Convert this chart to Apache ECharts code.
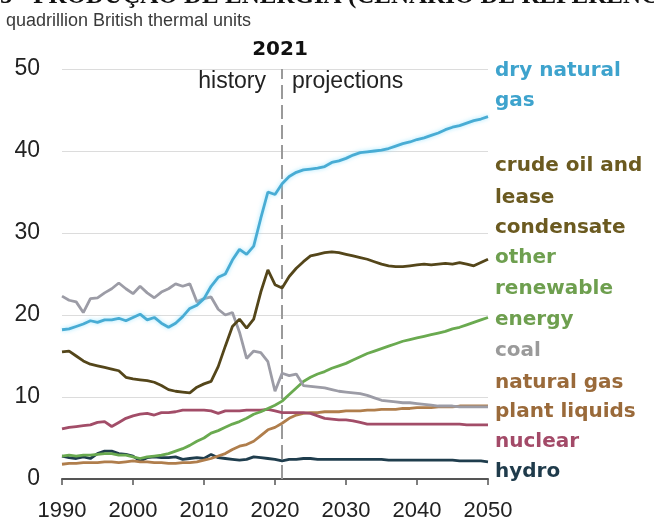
<!DOCTYPE html>
<html>
<head>
<meta charset="utf-8">
<script src="https://cdn.jsdelivr.net/npm/echarts@6/dist/echarts.min.js"></script>
<style>html,body{margin:0;padding:0;background:#fff}#c{width:654px;height:522px}</style>
</head>
<body>
<div id="c"></div>
<script>
const years = [1990,1991,1992,1993,1994,1995,1996,1997,1998,1999,2000,2001,2002,2003,2004,2005,2006,2007,2008,2009,2010,2011,2012,2013,2014,2015,2016,2017,2018,2019,2020,2021,2022,2023,2024,2025,2026,2027,2028,2029,2030,2031,2032,2033,2034,2035,2036,2037,2038,2039,2040,2041,2042,2043,2044,2045,2046,2047,2048,2049,2050];
const xTicks = [1990,2000,2010,2020,2030,2040,2050];
const yTicks = [0,10,20,30,40,50];

const dryNaturalGas = [18.2,18.3,18.6,18.9,19.3,19.1,19.4,19.4,19.6,19.3,19.7,20.1,19.4,19.7,19.0,18.5,19.0,19.8,20.8,21.2,22.0,23.5,24.6,25.0,26.7,28.0,27.4,28.4,31.8,35.0,34.7,36.0,36.9,37.4,37.7,37.8,37.9,38.1,38.6,38.8,39.1,39.5,39.8,39.9,40.0,40.1,40.3,40.6,40.9,41.1,41.4,41.6,41.9,42.2,42.6,42.9,43.1,43.4,43.7,43.9,44.2];
const crudeOil = [15.5,15.6,15.0,14.4,14.0,13.8,13.6,13.4,13.2,12.4,12.2,12.1,12.0,11.8,11.4,10.9,10.7,10.6,10.5,11.2,11.6,11.9,13.7,16.2,18.6,19.5,18.4,19.5,22.8,25.5,23.7,23.3,24.7,25.7,26.5,27.2,27.4,27.6,27.7,27.6,27.4,27.2,27.0,26.8,26.5,26.2,26.0,25.9,25.9,26.0,26.1,26.2,26.1,26.2,26.3,26.2,26.4,26.2,26.0,26.4,26.8];
const otherRenewable = [2.8,2.9,2.8,2.9,2.9,3.0,3.1,3.1,2.9,2.9,2.7,2.5,2.7,2.8,2.9,3.1,3.4,3.7,4.1,4.6,5.0,5.6,5.9,6.3,6.7,7.0,7.4,7.9,8.2,8.6,9.0,9.5,10.3,11.1,11.9,12.4,12.8,13.1,13.5,13.8,14.1,14.5,14.9,15.3,15.6,15.9,16.2,16.5,16.8,17.0,17.2,17.4,17.6,17.8,18.0,18.3,18.5,18.8,19.1,19.4,19.7];
const coal = [22.3,21.8,21.6,20.3,22.0,22.1,22.7,23.2,23.9,23.2,22.6,23.5,22.7,22.1,22.8,23.2,23.8,23.5,23.8,21.6,22.0,22.2,20.7,20.0,20.3,17.9,14.7,15.6,15.4,14.3,10.7,12.9,12.6,12.8,11.4,11.3,11.2,11.1,10.9,10.7,10.6,10.5,10.4,10.2,9.9,9.6,9.5,9.4,9.3,9.3,9.2,9.1,9.0,8.9,8.9,8.9,8.8,8.8,8.8,8.8,8.8];
const ngpl = [1.8,1.9,1.9,2.0,2.0,2.0,2.1,2.1,2.0,2.1,2.2,2.1,2.1,2.0,2.0,1.9,1.9,2.0,2.0,2.1,2.3,2.5,2.8,3.1,3.6,4.0,4.2,4.6,5.3,6.0,6.3,6.8,7.4,7.8,8.0,8.1,8.1,8.2,8.2,8.2,8.3,8.3,8.3,8.4,8.4,8.5,8.5,8.5,8.6,8.6,8.7,8.7,8.7,8.8,8.8,8.8,8.9,8.9,8.9,8.9,8.9];
const nuclear = [6.1,6.3,6.4,6.5,6.6,6.9,7.0,6.4,6.9,7.4,7.7,7.9,8.0,7.8,8.1,8.1,8.2,8.4,8.4,8.4,8.4,8.3,8.0,8.3,8.3,8.3,8.4,8.4,8.4,8.5,8.3,8.1,8.1,8.1,8.1,8.0,7.7,7.4,7.3,7.2,7.2,7.1,6.9,6.7,6.7,6.7,6.7,6.7,6.7,6.7,6.7,6.7,6.7,6.7,6.7,6.7,6.7,6.6,6.6,6.6,6.6];
const hydro = [2.8,2.6,2.5,2.7,2.5,3.1,3.4,3.4,3.1,3.0,2.8,2.2,2.6,2.7,2.6,2.6,2.7,2.4,2.5,2.6,2.5,3.0,2.6,2.5,2.4,2.3,2.4,2.7,2.6,2.5,2.4,2.2,2.4,2.4,2.5,2.5,2.4,2.4,2.4,2.4,2.4,2.4,2.4,2.4,2.4,2.4,2.3,2.3,2.3,2.3,2.3,2.3,2.3,2.3,2.3,2.3,2.2,2.2,2.2,2.2,2.1];

const projectionYear = 2021;
const titleText = '5 - PRODUÇÃO DE ENERGIA (CENÁRIO DE REFERÊNCIA)';
const unitText = 'quadrillion British thermal units';

const seriesDefs = [
  {name:'hydro', data:hydro, color:'#1f3d4d'},
  {name:'natural gas plant liquids', data:ngpl, color:'#b07e4c'},
  {name:'nuclear', data:nuclear, color:'#a24d68'},
  {name:'other renewable energy', data:otherRenewable, color:'#6aaa50'},
  {name:'coal', data:coal, color:'#9c9ca6'},
  {name:'crude oil and lease condensate', data:crudeOil, color:'#54461a'},
  {name:'dry natural gas', data:dryNaturalGas, color:'#48acd4'}
];

const labelDefs = [
  {t:'dry natural', y:73, c:'#3ea3cd'},
  {t:'gas', y:103, c:'#3ea3cd'},
  {t:'crude oil and', y:168, c:'#6b5a20'},
  {t:'lease', y:200, c:'#6b5a20'},
  {t:'condensate', y:230, c:'#6b5a20'},
  {t:'other', y:260, c:'#6e9f4f'},
  {t:'renewable', y:291, c:'#6e9f4f'},
  {t:'energy', y:322, c:'#6e9f4f'},
  {t:'coal', y:353, c:'#9a9a9a'},
  {t:'natural gas', y:385, c:'#9a6a3a'},
  {t:'plant liquids', y:414, c:'#9a6a3a'},
  {t:'nuclear', y:444, c:'#a34a68'},
  {t:'hydro', y:474, c:'#1f3b4b'}
];

const chart = echarts.init(document.getElementById('c'), null, {renderer:'canvas'});

const series = seriesDefs.map((s, i) => ({
  name: s.name,
  type: 'line',
  data: years.map((yr, k) => [yr, s.data[k]]),
  showSymbol: false,
  symbol: 'none',
  smooth: false,
  lineStyle: {
    color: s.color, width: 2.8,
    shadowColor: s.name === 'dry natural gas' ? 'rgba(140,225,255,0.8)' : 'rgba(0,0,0,0)',
    shadowBlur: s.name === 'dry natural gas' ? 4 : 0
  },
  z: 3 + i,
  silent: true,
  animation: false
}));

series.push({
  type: 'line',
  data: [],
  markLine: {
    silent: true,
    symbol: 'none',
    animation: false,
    label: {show: false},
    lineStyle: {color: '#9a9a9a', width: 2, type: [14, 6]},
    data: [{xAxis: projectionYear}]
  },
  z: 2
});

const graphics = labelDefs.map(l => ({
  type: 'text', left: 495, top: l.y - 12,
  style: {text: l.t, fill: l.c, font: 'bold 20px "DejaVu Sans", sans-serif'}
}));
graphics.push({type:'text', left: 6, top: 12, style:{text: unitText, fill:'#3a3a3a', font:'18px "Liberation Sans", Arial, sans-serif'}});
graphics.push({type:'text', left: 0, top: -16, style:{text: titleText, fill:'#111', font:'bold 25px "Liberation Serif", serif'}});
graphics.push({type:'text', x: 280, y: 50, style:{text: String(projectionYear), fill:'#111', font:'bold 20px "DejaVu Sans", sans-serif', align:'center', verticalAlign:'middle'}});
graphics.push({type:'text', x: 266, y: 82, style:{text:'history', fill:'#222', font:'23px "Liberation Sans", Arial, sans-serif', align:'right', verticalAlign:'middle'}});
graphics.push({type:'text', x: 292, y: 82, style:{text:'projections', fill:'#222', font:'23px "Liberation Sans", Arial, sans-serif', align:'left', verticalAlign:'middle'}});

chart.setOption({
  animation: false,
  backgroundColor: '#fff',
  grid: {left: 62, right: 166, top: 69, bottom: 41, containLabel: false},
  xAxis: {
    type: 'value', min: xTicks[0], max: xTicks[xTicks.length-1], interval: 10,
    axisLine: {show: true, lineStyle: {color: '#555', width: 2}},
    axisTick: {show: true, length: 6, lineStyle: {color: '#555', width: 1.5}},
    axisLabel: {fontSize: 22, color: '#222', margin: 21, fontFamily: '"Liberation Sans", Arial, sans-serif',
      formatter: v => xTicks.includes(v) ? String(v) : ''},
    splitLine: {show: false}
  },
  yAxis: {
    type: 'value', min: yTicks[0], max: yTicks[yTicks.length-1], interval: 10,
    axisLine: {show: false}, axisTick: {show: false},
    axisLabel: {fontSize: 23, color: '#222', margin: 22, fontFamily: '"Liberation Sans", Arial, sans-serif',
      formatter: v => yTicks.includes(v) ? String(v) : ''},
    splitLine: {show: true, lineStyle: {color: '#dcdcdc', width: 1}}
  },
  graphic: graphics,
  series: series
});
</script>
</body>
</html>
